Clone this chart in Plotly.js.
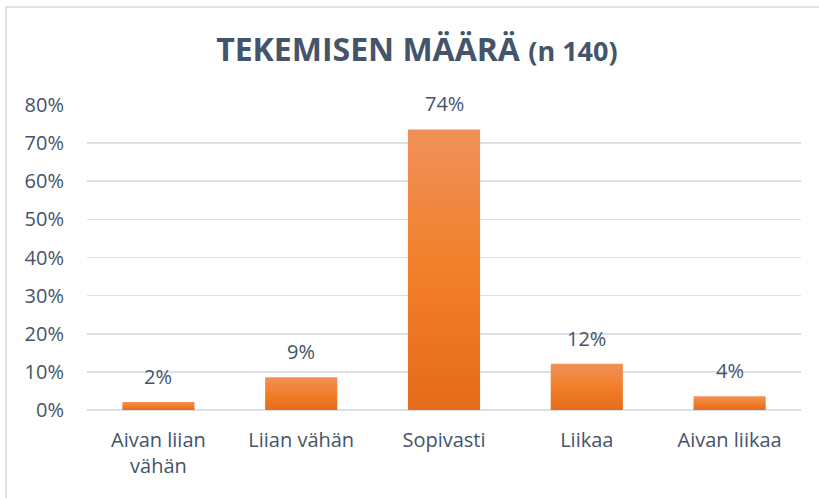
<!DOCTYPE html>
<html>
<head>
<meta charset="utf-8">
<script src="https://cdn.plot.ly/plotly-3.0.1.min.js"></script>
<style>
  html, body { margin: 0; padding: 0; background: #fff; }
  #wrap { position: relative; width: 819px; height: 498px; overflow: hidden; }
  #chart { width: 819px; height: 498px; }
  #frame { position: absolute; left: 5px; top: 6px; width: 830px; height: 510px;
           border: 2px solid #DEE3EA; box-sizing: border-box; pointer-events: none; }
</style>
</head>
<body>
<div id="wrap">
  <div id="chart"></div>
  <div id="frame"></div>
</div>
<script>
const categories = ["Aivan liian<br>vähän", "Liian vähän", "Sopivasti", "Liikaa", "Aivan liikaa"];
const values = [0.021, 0.086, 0.736, 0.121, 0.036];
const valueLabels = ["2%", "9%", "74%", "12%", "4%"];
const yTickValues = [0, 0.1, 0.2, 0.3, 0.4, 0.5, 0.6, 0.7, 0.8];
const yTickLabels = ["0%", "10%", "20%", "30%", "40%", "50%", "60%", "70%", "80%"];

const textColor = "#44546A";
const font = "Open Sans, Noto Sans, sans-serif";

const trace = {
  type: "bar",
  x: categories,
  y: values,
  marker: { color: "#EF7D2E", line: { width: 0 } },
  hoverinfo: "none"
};

const annotations = categories.map((c, i) => ({
  x: c, y: values[i], xref: "x", yref: "y",
  text: valueLabels[i], showarrow: false,
  yanchor: "bottom", yshift: 10,
  font: { family: font, size: 20, color: textColor }
}));

const layout = {
  width: 819, height: 498,
  margin: { l: 87, r: 18, t: 105, b: 88 },
  paper_bgcolor: "#fff", plot_bgcolor: "#fff",
  bargap: 0.495,
  showlegend: false,
  title: {
    text: "<b>TEKEMISEN MÄÄRÄ</b> <b><span style='font-size:27px'>(n 140)</span></b>",
    x: 0.509, xref: "container", xanchor: "center",
    y: 0.9, yref: "container", yanchor: "middle",
    font: { family: font, size: 32, color: textColor }
  },
  xaxis: {
    showgrid: false, zeroline: false, showline: false,
    ticks: "", ticklabelstandoff: 16,
    tickfont: { family: font, size: 20, color: textColor },
    fixedrange: true
  },
  yaxis: {
    range: [0, 0.8], tickvals: yTickValues, ticktext: yTickLabels,
    showgrid: true, gridcolor: "#DCE0E7", gridwidth: 1.6,
    zeroline: true, zerolinecolor: "#DCE0E7", zerolinewidth: 1.6,
    showline: false, ticks: "", ticklabelstandoff: 22,
    tickfont: { family: font, size: 20, color: textColor },
    fixedrange: true
  },
  annotations: annotations
};

Plotly.newPlot("chart", [trace], layout, { staticPlot: true, displayModeBar: false }).then(gd => {
  const svg = gd.querySelector("svg.main-svg");
  const ns = "http://www.w3.org/2000/svg";
  let defs = svg.querySelector("defs");
  if (!defs) { defs = document.createElementNS(ns, "defs"); svg.insertBefore(defs, svg.firstChild); }
  const lg = document.createElementNS(ns, "linearGradient");
  lg.setAttribute("id", "barGrad");
  lg.setAttribute("x1", "0"); lg.setAttribute("y1", "0");
  lg.setAttribute("x2", "0"); lg.setAttribute("y2", "1");
  [["0", "#F09159"], ["0.5", "#F27F2A"], ["1", "#E56B1A"]].forEach(([o, c]) => {
    const s = document.createElementNS(ns, "stop");
    s.setAttribute("offset", o); s.setAttribute("stop-color", c);
    lg.appendChild(s);
  });
  defs.appendChild(lg);
  gd.querySelectorAll(".barlayer .point path").forEach(p => { p.style.fill = "url(#barGrad)"; });
});
</script>
</body>
</html>
